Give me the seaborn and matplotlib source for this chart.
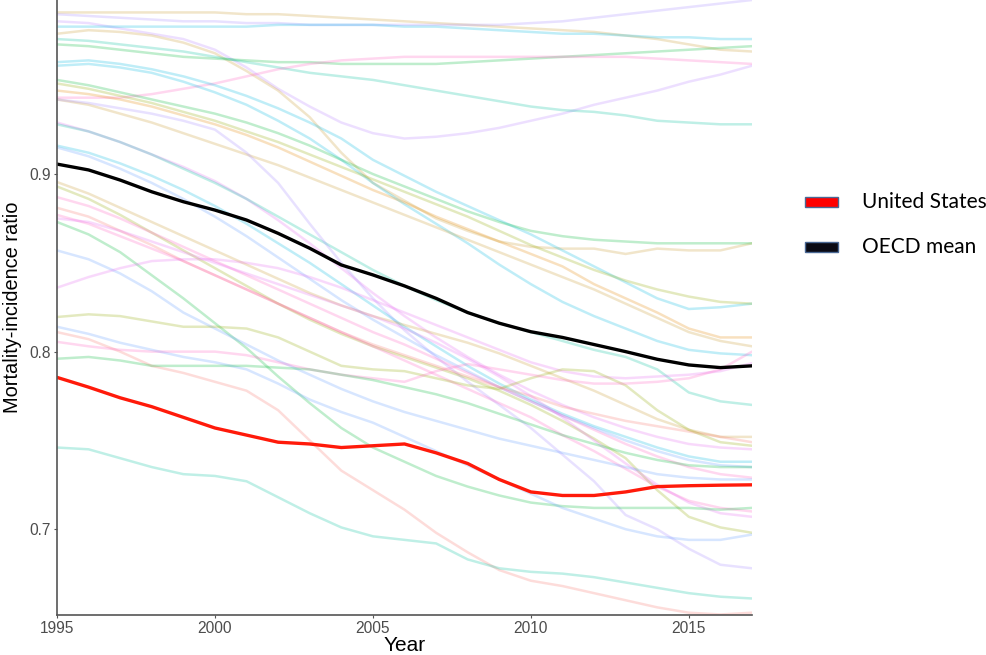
import matplotlib
matplotlib.use("Agg")
import matplotlib.pyplot as plt
from matplotlib.patches import Rectangle
import numpy as np
import pandas as pd
import seaborn as sns

years = list(range(1995, 2018))

# Individual OECD countries (mortality-incidence ratio by year, 1995-2017)
country_01 = [0.991, 0.991, 0.991, 0.991, 0.991, 0.991, 0.990, 0.990, 0.989, 0.988, 0.987, 0.986, 0.985, 0.984, 0.983, 0.982, 0.981, 0.980, 0.978, 0.976, 0.973, 0.970, 0.969]
country_02 = [0.990, 0.989, 0.988, 0.987, 0.986, 0.986, 0.985, 0.985, 0.984, 0.984, 0.984, 0.984, 0.984, 0.984, 0.984, 0.985, 0.986, 0.988, 0.990, 0.992, 0.994, 0.996, 0.998]
country_03 = [0.986, 0.985, 0.982, 0.979, 0.976, 0.970, 0.960, 0.948, 0.938, 0.929, 0.923, 0.920, 0.921, 0.923, 0.926, 0.930, 0.934, 0.939, 0.943, 0.947, 0.952, 0.956, 0.961]
country_04 = [0.983, 0.983, 0.983, 0.983, 0.983, 0.983, 0.983, 0.984, 0.984, 0.984, 0.984, 0.983, 0.983, 0.982, 0.981, 0.980, 0.979, 0.979, 0.978, 0.977, 0.977, 0.976, 0.976]
country_05 = [0.979, 0.981, 0.980, 0.978, 0.974, 0.968, 0.958, 0.947, 0.932, 0.912, 0.895, 0.885, 0.875, 0.868, 0.862, 0.859, 0.858, 0.858, 0.855, 0.858, 0.857, 0.857, 0.861]
country_06 = [0.976, 0.975, 0.973, 0.971, 0.969, 0.966, 0.963, 0.960, 0.957, 0.955, 0.953, 0.950, 0.947, 0.944, 0.941, 0.938, 0.936, 0.935, 0.933, 0.930, 0.929, 0.928, 0.928]
country_07 = [0.973, 0.972, 0.970, 0.968, 0.966, 0.965, 0.964, 0.963, 0.963, 0.962, 0.962, 0.962, 0.962, 0.963, 0.964, 0.965, 0.966, 0.967, 0.968, 0.969, 0.970, 0.971, 0.972]
country_08 = [0.943, 0.943, 0.943, 0.945, 0.948, 0.951, 0.955, 0.959, 0.962, 0.964, 0.965, 0.966, 0.966, 0.966, 0.966, 0.966, 0.966, 0.966, 0.966, 0.965, 0.964, 0.963, 0.962]
country_09 = [0.963, 0.964, 0.962, 0.959, 0.955, 0.950, 0.944, 0.937, 0.929, 0.920, 0.908, 0.899, 0.890, 0.882, 0.874, 0.866, 0.857, 0.848, 0.839, 0.830, 0.824, 0.825, 0.827]
country_10 = [0.961, 0.962, 0.960, 0.957, 0.952, 0.946, 0.939, 0.930, 0.920, 0.908, 0.895, 0.883, 0.872, 0.861, 0.849, 0.838, 0.828, 0.820, 0.813, 0.806, 0.801, 0.799, 0.798]
country_11 = [0.953, 0.950, 0.946, 0.942, 0.938, 0.934, 0.929, 0.923, 0.916, 0.908, 0.900, 0.893, 0.886, 0.879, 0.873, 0.868, 0.865, 0.863, 0.862, 0.861, 0.861, 0.861, 0.861]
country_12 = [0.951, 0.948, 0.944, 0.940, 0.935, 0.930, 0.924, 0.918, 0.911, 0.904, 0.897, 0.890, 0.883, 0.876, 0.868, 0.860, 0.853, 0.846, 0.840, 0.835, 0.831, 0.828, 0.827]
country_13 = [0.947, 0.945, 0.942, 0.938, 0.933, 0.928, 0.922, 0.915, 0.907, 0.899, 0.891, 0.884, 0.876, 0.869, 0.862, 0.855, 0.848, 0.838, 0.830, 0.822, 0.813, 0.808, 0.808]
country_14 = [0.942, 0.939, 0.934, 0.929, 0.923, 0.917, 0.911, 0.905, 0.898, 0.891, 0.884, 0.877, 0.870, 0.863, 0.856, 0.849, 0.842, 0.835, 0.827, 0.819, 0.811, 0.806, 0.803]
country_15 = [0.929, 0.924, 0.918, 0.911, 0.904, 0.896, 0.886, 0.874, 0.861, 0.847, 0.833, 0.820, 0.808, 0.797, 0.787, 0.778, 0.770, 0.763, 0.757, 0.752, 0.748, 0.746, 0.745]
country_16 = [0.928, 0.924, 0.918, 0.911, 0.903, 0.895, 0.886, 0.876, 0.866, 0.856, 0.846, 0.837, 0.829, 0.822, 0.816, 0.811, 0.806, 0.801, 0.797, 0.790, 0.777, 0.772, 0.770]
country_17 = [0.942, 0.940, 0.937, 0.934, 0.930, 0.925, 0.912, 0.895, 0.872, 0.850, 0.830, 0.812, 0.797, 0.783, 0.770, 0.757, 0.742, 0.727, 0.708, 0.700, 0.689, 0.680, 0.678]
country_18 = [0.916, 0.912, 0.906, 0.899, 0.891, 0.882, 0.872, 0.861, 0.850, 0.838, 0.826, 0.814, 0.803, 0.792, 0.782, 0.773, 0.765, 0.758, 0.752, 0.746, 0.741, 0.738, 0.738]
country_19 = [0.915, 0.910, 0.903, 0.895, 0.886, 0.876, 0.865, 0.853, 0.841, 0.829, 0.818, 0.808, 0.798, 0.789, 0.780, 0.772, 0.764, 0.757, 0.750, 0.744, 0.739, 0.736, 0.735]
country_20 = [0.8955, 0.889, 0.881, 0.873, 0.865, 0.857, 0.849, 0.841, 0.833, 0.826, 0.820, 0.815, 0.810, 0.805, 0.799, 0.792, 0.785, 0.778, 0.770, 0.762, 0.756, 0.752, 0.752]
country_21 = [0.893, 0.886, 0.877, 0.867, 0.857, 0.847, 0.837, 0.827, 0.818, 0.810, 0.803, 0.797, 0.791, 0.785, 0.778, 0.770, 0.761, 0.751, 0.740, 0.722, 0.707, 0.701, 0.698]
country_22 = [0.887, 0.882, 0.875, 0.867, 0.859, 0.851, 0.843, 0.835, 0.827, 0.819, 0.811, 0.804, 0.796, 0.788, 0.780, 0.772, 0.764, 0.756, 0.748, 0.741, 0.735, 0.731, 0.729]
country_23 = [0.881, 0.876, 0.868, 0.860, 0.851, 0.843, 0.835, 0.827, 0.819, 0.811, 0.804, 0.798, 0.792, 0.786, 0.780, 0.775, 0.769, 0.765, 0.761, 0.758, 0.755, 0.752, 0.749]
country_24 = [0.877, 0.872, 0.865, 0.858, 0.851, 0.843, 0.835, 0.827, 0.819, 0.811, 0.803, 0.795, 0.787, 0.779, 0.771, 0.763, 0.753, 0.744, 0.734, 0.724, 0.716, 0.712, 0.710]
country_25 = [0.875, 0.873, 0.868, 0.862, 0.856, 0.850, 0.844, 0.838, 0.832, 0.826, 0.820, 0.813, 0.805, 0.796, 0.786, 0.775, 0.763, 0.750, 0.737, 0.725, 0.715, 0.709, 0.707]
country_26 = [0.873, 0.866, 0.856, 0.843, 0.830, 0.816, 0.802, 0.786, 0.771, 0.757, 0.746, 0.738, 0.730, 0.724, 0.719, 0.715, 0.713, 0.712, 0.712, 0.712, 0.712, 0.711, 0.712]
country_27 = [0.857, 0.852, 0.844, 0.834, 0.822, 0.813, 0.804, 0.795, 0.787, 0.779, 0.772, 0.766, 0.761, 0.756, 0.751, 0.747, 0.743, 0.739, 0.735, 0.731, 0.729, 0.728, 0.728]
country_28 = [0.814, 0.810, 0.805, 0.801, 0.797, 0.794, 0.790, 0.782, 0.773, 0.766, 0.760, 0.752, 0.744, 0.736, 0.728, 0.720, 0.712, 0.706, 0.700, 0.696, 0.694, 0.694, 0.697]
country_29 = [0.836, 0.842, 0.847, 0.851, 0.852, 0.852, 0.850, 0.847, 0.842, 0.836, 0.829, 0.822, 0.815, 0.808, 0.801, 0.794, 0.789, 0.786, 0.785, 0.786, 0.787, 0.789, 0.7935]
country_30 = [0.8195, 0.821, 0.820, 0.817, 0.814, 0.814, 0.813, 0.808, 0.800, 0.792, 0.790, 0.789, 0.785, 0.781, 0.779, 0.785, 0.790, 0.789, 0.781, 0.767, 0.756, 0.749, 0.747]
country_31 = [0.811, 0.807, 0.800, 0.792, 0.788, 0.783, 0.778, 0.767, 0.750, 0.733, 0.722, 0.711, 0.698, 0.687, 0.677, 0.671, 0.668, 0.664, 0.660, 0.656, 0.653, 0.652, 0.653]
country_32 = [0.8055, 0.803, 0.801, 0.800, 0.800, 0.800, 0.798, 0.794, 0.790, 0.787, 0.785, 0.783, 0.789, 0.793, 0.790, 0.787, 0.784, 0.782, 0.782, 0.783, 0.785, 0.790, 0.800]
country_33 = [0.796, 0.797, 0.795, 0.792, 0.792, 0.792, 0.792, 0.791, 0.790, 0.787, 0.784, 0.780, 0.776, 0.771, 0.765, 0.759, 0.753, 0.748, 0.743, 0.739, 0.736, 0.735, 0.735]
country_34 = [0.746, 0.745, 0.740, 0.735, 0.731, 0.730, 0.727, 0.718, 0.709, 0.701, 0.696, 0.694, 0.692, 0.683, 0.678, 0.676, 0.675, 0.673, 0.670, 0.667, 0.664, 0.662, 0.661]

united_states = [0.7855, 0.780, 0.774, 0.769, 0.763, 0.757, 0.753, 0.749, 0.748, 0.746, 0.747, 0.748, 0.743, 0.737, 0.728, 0.721, 0.719, 0.719, 0.721, 0.724, 0.7245, 0.7248, 0.725]
oecd_mean = [0.9056, 0.9023, 0.8966, 0.8900, 0.8844, 0.8797, 0.8741, 0.8666, 0.8582, 0.8488, 0.8432, 0.8370, 0.8300, 0.8220, 0.8160, 0.8112, 0.8080, 0.8040, 0.8000, 0.7957, 0.7925, 0.7910, 0.7920]

countries = [
    country_01, country_02, country_03, country_04, country_05, country_06,
    country_07, country_08, country_09, country_10, country_11, country_12,
    country_13, country_14, country_15, country_16, country_17, country_18,
    country_19, country_20, country_21, country_22, country_23, country_24,
    country_25, country_26, country_27, country_28, country_29, country_30,
    country_31, country_32, country_33, country_34,
]

legend_labels = ["United States", "OECD mean"]
x_ticks = [1995, 2000, 2005, 2010, 2015]
y_ticks = [0.7, 0.8, 0.9]

# hue-style colours for the country lines
tan, olive, green, teal = "#C99A2E", "#93AA00", "#00BA38", "#00C19F"
cyan, blue, lav, purple = "#00B9E3", "#619CFF", "#A58AFF", "#B983FF"
magenta, pink, salmon, orange = "#E76BF3", "#FF61C3", "#F8766D", "#E58700"
line_colors = [
    tan, lav, purple, cyan, tan, teal, green, pink, cyan, cyan, green, olive,
    orange, tan, magenta, teal, lav, cyan, blue, tan, olive, pink, salmon,
    pink, magenta, green, blue, blue, magenta, olive, salmon, pink, green, teal,
]

rows = []
for i, series in enumerate(countries):
    for yr, v in zip(years, series):
        rows.append({"country": f"c{i:02d}", "year": yr, "ratio": v})
df = pd.DataFrame(rows)
palette = {f"c{i:02d}": c for i, c in enumerate(line_colors)}

sns.set_theme(style="white")
plt.rcParams["font.family"] = ["Liberation Sans", "DejaVu Sans"]

fig = plt.figure(figsize=(9.86, 6.55), dpi=100)
ax = fig.add_axes([57 / 986, 40 / 655, 695 / 986, 615 / 655])

sns.lineplot(data=df, x="year", y="ratio", hue="country", palette=palette,
             alpha=0.25, linewidth=1.8, legend=False, ax=ax, estimator=None)
sns.lineplot(x=years, y=oecd_mean, color="black", linewidth=2.4, ax=ax)
sns.lineplot(x=years, y=united_states, color="#FF1A0A", linewidth=2.4, ax=ax)

ax.set_xlim(1995, 2017)
ax.set_ylim(0.6517, 0.998)
ax.set_xticks(x_ticks)
ax.set_xticklabels([str(t) for t in x_ticks])
ax.set_yticks(y_ticks)
ax.set_yticklabels([f"{t:g}" for t in y_ticks])

for side in ["top", "right"]:
    ax.spines[side].set_visible(False)
for side in ["left", "bottom"]:
    ax.spines[side].set_color("#555555")
    ax.spines[side].set_linewidth(1.2)
ax.tick_params(axis="both", which="both", direction="out", length=2.5,
               width=0.8, color="#555555", labelsize=11.2,
               labelcolor="#4d4d4d", pad=2, bottom=True, left=True)
ax.set_xlabel("Year", fontsize=15, color="black", labelpad=0)
ax.set_ylabel("Mortality-incidence ratio", fontsize=14.4, color="black", labelpad=5)

# legend on the right of the panel
legend_colors = ["#FF0000", "#0A0A14"]
legend_rows_y = [202, 247]
for lbl, col, py in zip(legend_labels, legend_colors, legend_rows_y):
    fig.patches.append(Rectangle((805 / 986, (655 - py - 5) / 655), 33 / 986, 10 / 655,
                                 transform=fig.transFigure, facecolor=col,
                                 edgecolor="#4A6894", linewidth=1.0))
    fig.text(862 / 986, (655 - py) / 655, lbl, fontsize=15, family=["Lato", "DejaVu Sans"],
             va="center", ha="left", color="black")

fig.savefig("out.png", dpi=100, facecolor="white")
